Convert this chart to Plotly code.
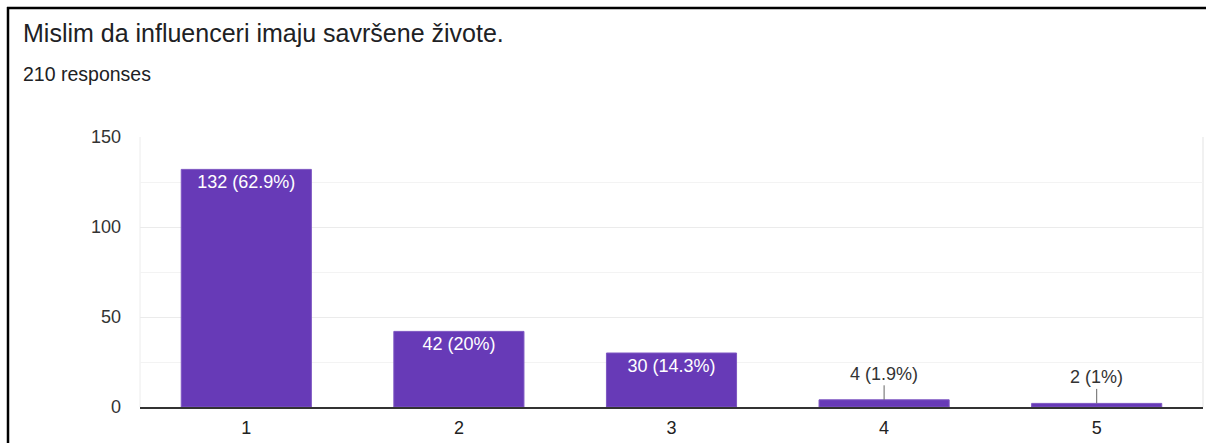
import plotly.graph_objects as go

categories = ["1", "2", "3", "4", "5"]
counts = [132, 42, 30, 4, 2]
total_responses = 210
title_text = "Mislim da influenceri imaju savršene živote."
subtitle_text = "210 responses"
y_ticks = [0, 50, 100, 150]

def pct(v):
    p = round(v / total_responses * 100, 1)
    s = f"{p:.1f}"
    if s.endswith(".0"):
        s = s[:-2]
    return f"{v} ({s}%)"

labels = [pct(v) for v in counts]
inside = [v >= 20 for v in counts]

W, H = 1206, 443
L, R, T, B = 140, 3, 137, 36
pw = W - L - R
ph = H - T - B

def px_x(px):
    return (px - L) / pw

def px_y(py):
    return (H - B - py) / ph

bar_color = "#673ab7"
FONT = "Liberation Sans, Arial, sans-serif"

fig = go.Figure()
fig.add_trace(go.Bar(
    x=categories, y=counts,
    marker=dict(color=bar_color, line=dict(color="#7e57c2", width=1)),
    width=0.612,
    text=[lab if ins else "" for lab, ins in zip(labels, inside)],
    textposition="inside",
    insidetextanchor="end",
    textangle=0,
    textfont=dict(color="white", size=18, family=FONT),
    hoverinfo="skip",
))

annotations = []
for i, (v, lab, ins) in enumerate(zip(counts, labels, inside)):
    if not ins:
        annotations.append(dict(
            x=i, y=v, xref="x", yref="y", text=lab,
            showarrow=True, arrowhead=0, arrowwidth=1, arrowcolor="#666",
            ax=0, ay=-26,
            font=dict(color="#333", size=18, family=FONT),
        ))

annotations.append(dict(
    x=px_x(21), y=px_y(33), xref="paper", yref="paper",
    text=title_text, showarrow=False, xanchor="left", yanchor="middle",
    font=dict(color="#202124", size=25, family=FONT),
))
annotations.append(dict(
    x=px_x(21), y=px_y(74), xref="paper", yref="paper",
    text=subtitle_text, showarrow=False, xanchor="left", yanchor="middle",
    font=dict(color="#202124", size=19.5, family=FONT),
))

shapes = [
    dict(type="line", xref="paper", yref="paper",
         x0=px_x(8), x1=px_x(8), y0=px_y(7), y1=px_y(460),
         line=dict(color="black", width=2.5)),
    dict(type="line", xref="paper", yref="paper",
         x0=px_x(7), x1=px_x(1230), y0=px_y(8), y1=px_y(8),
         line=dict(color="black", width=2.5)),
    dict(type="line", xref="paper", yref="paper", x0=0, x1=0, y0=0, y1=1,
         line=dict(color="#ececec", width=1), layer="below"),
    dict(type="line", xref="paper", yref="paper", x0=1, x1=1, y0=0, y1=1,
         line=dict(color="#ededed", width=1.5), layer="below"),
]

fig.update_layout(
    width=W, height=H,
    margin=dict(l=L, r=R, t=T, b=B),
    paper_bgcolor="white", plot_bgcolor="white",
    showlegend=False,
    annotations=annotations,
    shapes=shapes,
    xaxis=dict(
        type="category", range=[-0.5, 4.5],
        showgrid=False, showline=True, linecolor="#333", linewidth=2,
        ticks="", ticklabelstandoff=3,
        tickfont=dict(color="#222", size=18, family=FONT),
        fixedrange=True,
    ),
    yaxis=dict(
        range=[0, 150], tickvals=y_ticks,
        showgrid=True, gridcolor="#ebebeb", gridwidth=1,
        minor=dict(dtick=25, tick0=0, showgrid=True, gridcolor="#f3f3f3", gridwidth=1),
        zeroline=False, showline=False, ticks="",
        ticklabelstandoff=18,
        tickfont=dict(color="#333", size=18, family=FONT),
        fixedrange=True,
    ),
)

fig.write_html(
    "out.html",
    config={"displayModeBar": False},
    post_script="document.body.style.margin='0';document.body.style.overflow='hidden';",
)
